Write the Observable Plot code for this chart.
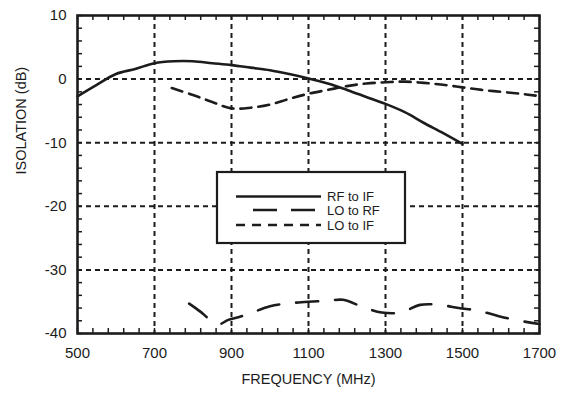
<!DOCTYPE html>
<html>
<head>
<meta charset="utf-8">
<script src="https://cdn.jsdelivr.net/npm/d3@7"></script>
<script src="https://cdn.jsdelivr.net/npm/@observablehq/plot@0.6"></script>
<style>
  html, body { margin: 0; padding: 0; background: #fff; }
  #chart svg { display: block; }
</style>
</head>
<body>
<div id="chart"></div>
<script>
// ---- Data ----
const xTicks = [500, 700, 900, 1100, 1300, 1500, 1700];
const yTicks = [-40, -30, -20, -10, 0, 10];
const xLabel = "FREQUENCY (MHz)";
const yLabel = "ISOLATION (dB)";
const seriesNames = ["RF to IF", "LO to RF", "LO to IF"];

const freqRFtoIF = [500, 550, 600, 650, 700, 750, 800, 850, 900, 950, 1000, 1050, 1100, 1150, 1200, 1250, 1300, 1350, 1400, 1450, 1500];
const rfToIF     = [-2.7, -0.9, 0.8, 1.6, 2.5, 2.8, 2.8, 2.5, 2.2, 1.8, 1.4, 0.8, 0.1, -0.7, -1.7, -2.8, -3.9, -5.2, -6.9, -8.5, -10.2];

const freqLOtoRF = [790, 820, 850, 870, 890, 920, 950, 1000, 1050, 1100, 1150, 1190, 1240, 1290, 1340, 1390, 1440, 1490, 1540, 1590, 1640, 1700];
const loToRF     = [-35.3, -36.6, -38.1, -38.5, -37.9, -37.4, -36.8, -35.7, -35.25, -35.0, -34.85, -34.7, -35.8, -36.7, -36.7, -35.5, -35.5, -36.0, -36.4, -37.2, -37.9, -38.5];

const freqLOtoIF = [745, 800, 850, 900, 950, 1000, 1050, 1100, 1150, 1200, 1250, 1300, 1350, 1400, 1450, 1500, 1550, 1600, 1650, 1690];
const loToIF     = [-1.4, -2.5, -3.6, -4.6, -4.5, -4.0, -3.1, -2.3, -1.7, -1.1, -0.7, -0.5, -0.4, -0.6, -0.9, -1.3, -1.7, -2.0, -2.3, -2.6];

// ---- Build tables ----
const rows = (fs, vs, name) => fs.map((f, i) => ({freq: f, val: vs[i], series: name}));
const dRF = rows(freqRFtoIF, rfToIF, seriesNames[0]);
const dLORF = rows(freqLOtoRF, loToRF, seriesNames[1]);
const dLOIF = rows(freqLOtoIF, loToIF, seriesNames[2]);

const ink = "#1c1c1c";
const dashes = {"RF to IF": null, "LO to RF": "22,17", "LO to IF": "11,7"};
const gridDash = "5,4";

const W = 564, H = 395, mL = 77, mR = 25, mT = 15, mB = 62;
const xMin = xTicks[0], xMax = xTicks[xTicks.length - 1];
const yMin = yTicks[0], yMax = yTicks[yTicks.length - 1];
const minorX = d3.range(xMin, xMax + 1, 40);
const minorY = d3.range(yMin, yMax + 0.1, 2);
const innerX = xTicks.slice(1, -1);
const innerY = yTicks.slice(1, -1);
// inward tick length (5 px) expressed in data units
const tickPx = 5;
const tickDy = tickPx * (yMax - yMin) / (H - mT - mB);
const tickDx = tickPx * (xMax - xMin) / (W - mL - mR);

const fontFamily = "'Liberation Sans', Arial, Helvetica, sans-serif";

const chart = Plot.plot({
  width: W,
  height: H,
  marginLeft: mL,
  marginRight: mR,
  marginTop: mT,
  marginBottom: mB,
  style: {fontFamily, fontSize: "15px", color: ink, background: "#fff"},
  x: {domain: [xMin, xMax]},
  y: {domain: [yMin, yMax]},
  marks: [
    // dotted grid
    Plot.ruleX(innerX, {x: d => d, stroke: ink, strokeWidth: 2, strokeDasharray: gridDash}),
    Plot.ruleY(innerY, {y: d => d, stroke: ink, strokeWidth: 2, strokeDasharray: gridDash}),
    // inward minor ticks on all four sides
    Plot.ruleX(minorX, {x: d => d, y1: yMin, y2: yMin + tickDy, stroke: ink, strokeWidth: 1.5}),
    Plot.ruleX(minorX, {x: d => d, y1: yMax - tickDy, y2: yMax, stroke: ink, strokeWidth: 1.5}),
    Plot.ruleY(minorY, {y: d => d, x1: xMin, x2: xMin + tickDx, stroke: ink, strokeWidth: 1.5}),
    Plot.ruleY(minorY, {y: d => d, x1: xMax - tickDx, x2: xMax, stroke: ink, strokeWidth: 1.5}),
    // curves
    Plot.line(dRF, {x: "freq", y: "val", stroke: ink, strokeWidth: 2.6, curve: "catmull-rom"}),
    Plot.line(dLORF, {x: "freq", y: "val", stroke: ink, strokeWidth: 2.6, curve: "catmull-rom", strokeDasharray: dashes["LO to RF"]}),
    Plot.line(dLOIF, {x: "freq", y: "val", stroke: ink, strokeWidth: 2.6, curve: "catmull-rom", strokeDasharray: dashes["LO to IF"]}),
    // frame
    Plot.frame({stroke: ink, strokeWidth: 2.6}),
    // axes
    Plot.axisX(xTicks, {tickSize: 0, tickPadding: 14, label: null, fontSize: 15, fill: ink, tickFormat: d => String(d)}),
    Plot.axisY(yTicks, {tickSize: 0, tickPadding: 11, label: null, fontSize: 15, fill: ink, tickFormat: d => String(d)}),
    Plot.text([xLabel], {frameAnchor: "bottom", dy: 50, fontSize: 14.5, fill: ink}),
    Plot.text([yLabel], {frameAnchor: "left", dx: -56, rotate: -90, fontSize: 14.5, fill: ink})
  ]
});

document.getElementById("chart").appendChild(chart);

// ---- Legend (white box inside the plot area) ----
const svg = d3.select(chart);
const lg = svg.append("g").attr("transform", "translate(217,172)");
lg.append("rect").attr("width", 188).attr("height", 71)
  .attr("fill", "#fff").attr("stroke", ink).attr("stroke-width", 2.2);
const rowY = [24.5, 38, 53];
seriesNames.forEach((name, i) => {
  const line = lg.append("line")
    .attr("x1", name === "LO to RF" ? 36 : 19).attr("x2", 104)
    .attr("y1", rowY[i]).attr("y2", rowY[i])
    .attr("stroke", ink).attr("stroke-width", 2.6);
  if (dashes[name]) line.attr("stroke-dasharray", name === "LO to RF" ? "24,14" : "9,7");
  lg.append("text").attr("x", 110).attr("y", rowY[i]).attr("dy", "0.36em")
    .attr("text-anchor", "start")
    .attr("font-family", fontFamily).attr("font-size", 13).attr("fill", ink)
    .text(name);
});
</script>
</body>
</html>
